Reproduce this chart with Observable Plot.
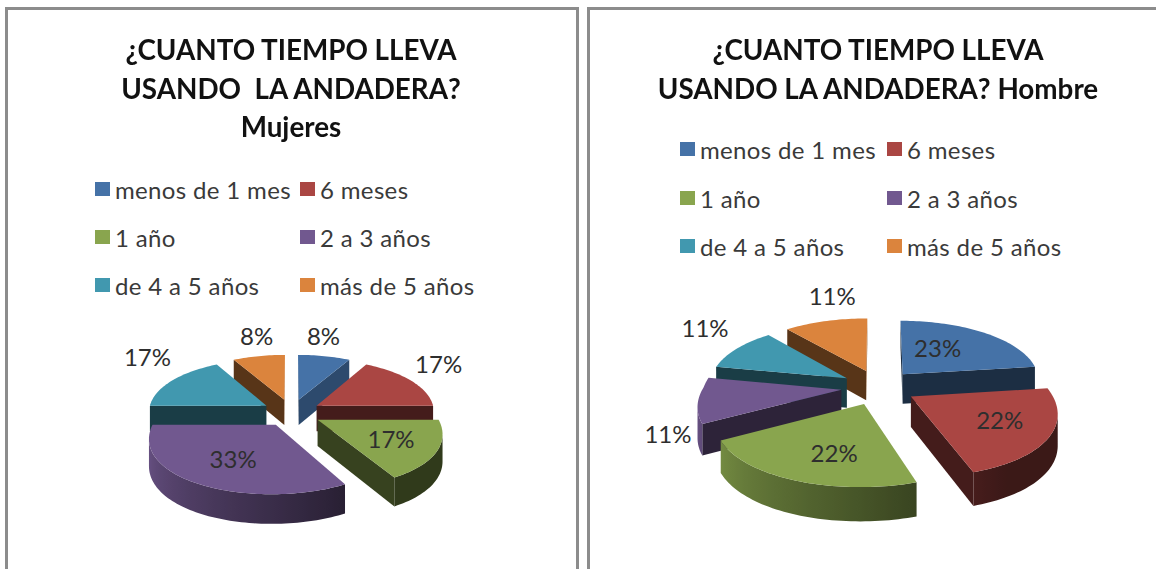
<!DOCTYPE html>
<html><head><meta charset="utf-8">
<script src="https://cdn.jsdelivr.net/npm/d3@7"></script>
<script src="https://cdn.jsdelivr.net/npm/@observablehq/plot@0.6"></script>
<style>
html,body{margin:0;padding:0;background:#fff;overflow:hidden}
#page{position:relative;width:1156px;height:569px;overflow:hidden;font-family:Lato,sans-serif;filter:blur(.35px)}
.panel{position:absolute;top:7px;height:580px;box-sizing:border-box;border:3px solid #8c8c8c;background:#fff}
.title{position:absolute;text-align:center;font-weight:700;font-size:27.8px;line-height:38.5px;color:#111;white-space:pre}
.leg{position:absolute;display:flex;align-items:center;font-size:24px;letter-spacing:.35px;color:#3a3a3a;white-space:nowrap;height:24px}
.leg i{display:block;width:15px;height:14px;margin-right:5px}
svg{position:absolute;left:0;top:0;background:transparent}
</style></head><body><div id="page"></div>
<script>
const categories = ["menos de 1 mes","6 meses","1 año","2 a 3 años","de 4 a 5 años","más de 5 años"];
const colors = ["#4572a7","#aa4643","#89a54e","#71588f","#4198af","#db843d"];
const mujeres = [8,17,17,33,17,8];
const hombres = [23,22,22,11,11,11];
const mujeresLabelRadius = [1.743,1.683,0.90,0.87,1.782,1.749];
const mujeresLabelAngle  = [10.5,54.4,122,208.8,310.2,348.6];
const hombresLabelRadius = [0.787,0.93,0.93,1.48,1.727,1.793];
const hombresLabelAngle  = [35.4,121.5,196.5,243.4,306.6,347.3];

const charts = [
 {key:"m",title:"¿CUANTO TIEMPO LLEVA\nUSANDO  LA ANDADERA?\nMujeres", values:mujeres, lr:mujeresLabelRadius, la:mujeresLabelAngle,
  left:5,width:574,cx:291,cy:412,rx:118,ry:55,depth:26,explode:.25,
  legendX:[95,300],legendY:[189,237,285]},
 {key:"h",title:"¿CUANTO TIEMPO LLEVA\nUSANDO LA ANDADERA? Hombre", values:hombres, lr:hombresLabelRadius, la:hombresLabelAngle,
  left:587,width:600,cx:878,cy:386.5,rx:138,ry:65,depth:30,explode:.27,
  legendX:[680,887],legendY:[149,198,246]}
];
const kxBack=.1, kxFront=.2, ky=.15, kh=.1, rad=Math.PI/180;

function project(X,Z){
  // pie-plane point -> unit coordinates; the x and y scales map them to pixels
  return {x:X/(1+(Z>0?kxBack:kxFront)*Z), y:Z/(1+ky*Z)};
}
const shade=(c,t)=>{const r=d3.rgb(c);return d3.rgb(r.r*t,r.g*t,r.b*t).formatHex();};
const outerShade=a=>.35+.65*Math.max(0,Math.min(1,(a-150)/120));
const edgeShade=n=>{n=(n+360)%360;return n>60&&n<150?.65:.4;};

function buildFaces(ch){
  const total=d3.sum(ch.values), depthU=ch.depth/ch.ry;
  let acc=0;
  const slices=ch.values.map((v,i)=>{const a0=acc/total*360;acc+=v;const a1=acc/total*360;return{i,a0,a1,mid:(a0+a1)/2};});
  const order=slices.slice().sort((a,b)=>Math.cos(b.mid*rad)-Math.cos(a.mid*rad));
  const rows=[], gradients=[];let id=0;
  const add=(pts,fill)=>{id++;pts.forEach(p=>rows.push({face:id,x:p.x,y:p.y,fill}));};
  for(const s of order){
    const ox=ch.explode*Math.sin(s.mid*rad), oz=ch.explode*Math.cos(s.mid*rad);
    const top=(r,a)=>{const X=ox+r*Math.sin(a*rad),Z=oz+r*Math.cos(a*rad);const p=project(X,Z);return{x:p.x,y:p.y,Z,a};};
    const low=p=>({x:p.x,y:p.y-depthU/(1+kh*p.Z)});
    const col=colors[s.i];
    const apex=top(0,0), arc=[];
    const n=Math.max(2,Math.ceil((s.a1-s.a0)/1.5));
    for(let k=0;k<=n;k++)arc.push(top(1,s.a0+(s.a1-s.a0)*k/n));
    const first=arc[0], last=arc[n];
    if(first.x<apex.x) add([apex,first,low(first),low(apex)],shade(col,edgeShade(s.a0-90)));
    if(apex.x<last.x) add([last,apex,low(apex),low(last)],shade(col,edgeShade(s.a1+90)));
    const vis=[];
    for(let k=0;k<=n;k++){
      if((k<n&&arc[k+1].x<arc[k].x)||(k>0&&arc[k].x<arc[k-1].x))vis.push(arc[k]);
    }
    if(vis.length>1){
      const gid=`wall-${ch.key}-${s.i}`;
      const xMin=d3.min(vis,p=>p.x), xMax=d3.max(vis,p=>p.x);
      gradients.push({id:gid,stops:vis.map(p=>({offset:(p.x-xMin)/(xMax-xMin),color:shade(col,outerShade(p.a))})).sort((a,b)=>a.offset-b.offset)});
      add([...vis,...vis.slice().reverse().map(low)],`url(#${gid})`);
    }
    add([apex,...arc],col);
  }
  return {rows,gradients};
}

const page=document.getElementById("page");
for(const ch of charts){
  const panel=document.createElement("div");
  panel.className="panel";panel.style.left=ch.left+"px";panel.style.width=ch.width+"px";
  page.appendChild(panel);
  const {rows:faces,gradients}=buildFaces(ch);
  const labels=ch.values.map((v,i)=>{
    const p=project(ch.lr[i]*Math.sin(ch.la[i]*rad),ch.lr[i]*Math.cos(ch.la[i]*rad));
    return{x:p.x,y:p.y,text:v+"%"};
  });
  const gradientDefs=()=>{
    const defs=d3.create("svg:defs");
    for(const g of gradients){
      const lg=defs.append("linearGradient").attr("id",g.id).attr("x1",0).attr("x2",1).attr("y1",0).attr("y2",0);
      for(const st of g.stops)lg.append("stop").attr("offset",st.offset).attr("stop-color",st.color);
    }
    return defs.node();
  };
  const svg=Plot.plot({
    width:1156,height:569,margin:0,
    x:{axis:null,domain:[-1,1],range:[ch.cx-ch.rx,ch.cx+ch.rx]},
    y:{axis:null,domain:[-1,1],range:[ch.cy+ch.ry,ch.cy-ch.ry]},
    color:{type:"identity"},
    style:{background:"transparent",fontFamily:"Lato,sans-serif"},
    marks:[
      gradientDefs,
      Plot.line(faces,{x:"x",y:"y",z:"face",fill:"fill",curve:"linear-closed",stroke:null}),
      Plot.text(labels,{x:"x",y:"y",text:"text",fontSize:24,fill:"#2e2e2e"})
    ]
  });
  page.appendChild(svg);
  // title and legend
  const t=document.createElement("div");
  t.className="title";t.textContent=ch.title;
  t.style.left=(ch.cx-300)+"px";t.style.width="600px";t.style.top="31px";
  page.appendChild(t);
  categories.forEach((c,i)=>{
    const d=document.createElement("div");d.className="leg";
    d.style.left=ch.legendX[i%2]+"px";d.style.top=(ch.legendY[Math.floor(i/2)]-12)+"px";
    const sw=document.createElement("i");sw.style.background=colors[i];
    d.appendChild(sw);d.appendChild(document.createTextNode(c));
    page.appendChild(d);
  });
}
</script></body></html>
